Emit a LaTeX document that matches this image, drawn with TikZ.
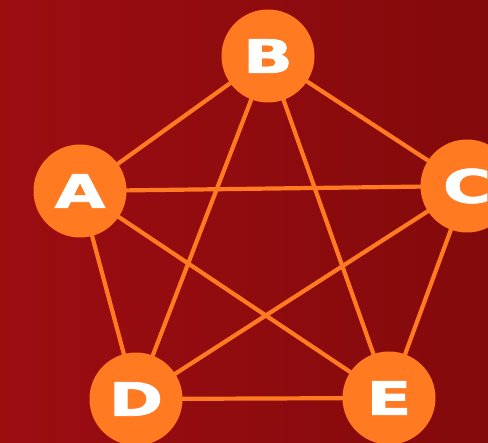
\documentclass[tikz,border=0pt]{standalone}
\usepackage{fontspec}
\setmainfont{DejaVu Sans}
\newfontfamily\heavyfont{DejaVu Sans Bold}[FakeBold=1.6]
\definecolor{bgleft}{HTML}{9C0D12}
\definecolor{bgright}{HTML}{830A0B}
\definecolor{nodeorange}{HTML}{FF7A20}
\newcommand{\widelabel}[1]{\scalebox{1.42}[1]{#1}}
\tikzset{main node/.style={circle,fill=nodeorange,minimum size=93pt,inner sep=0pt,
    text=white,font=\fontsize{46}{46}\heavyfont},
  link/.style={draw=nodeorange,line width=4.2pt},
}

\begin{document}
\begin{tikzpicture}[x=1pt,y=-1pt]
	\shade[left color=bgleft,right color=bgright] (0,0) rectangle (488,443);
	\useasboundingbox (0,0) rectangle (488,443);
	% vertices
	\coordinate (pB) at (268,56);
	\coordinate (pA) at (80,191);
	\coordinate (pC) at (467,186);
	\coordinate (pD) at (136,399);
	\coordinate (pE) at (389,398);
	
	\path[link]
	(pA) -- (pB)
	(pA) -- (pC)
	(pA) -- (pD)
	(pA) -- (pE)
	(pB) -- (pC)
	(pB) -- (pD)
	(pB) -- (pE)
	(pC) -- (pD)
	(pC) -- (pE)
	(pD) -- (pE);
	
	\node[main node] (A) at (pA) {\widelabel{A}};
	\node[main node] (B) at (pB) {\widelabel{B}};
	\node[main node] (C) at (pC) {\widelabel{C}};
	\node[main node] (D) at (pD) {\widelabel{D}};
	\node[main node] (E) at (pE) {\widelabel{E}};
\end{tikzpicture}
\end{document}
